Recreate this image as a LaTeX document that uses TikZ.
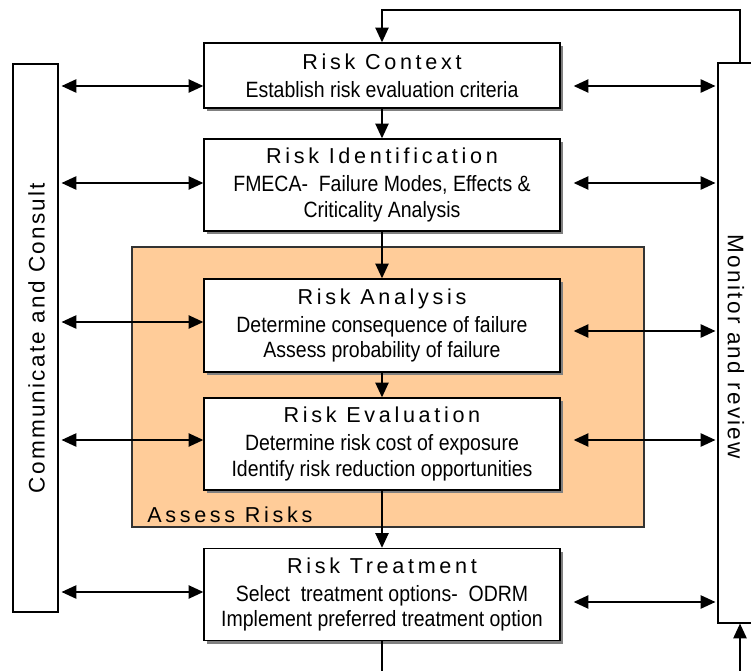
\documentclass[tikz,border=0pt]{standalone}
\usepackage{fontspec}
\setmainfont{Liberation Sans}
\newfontfamily\titlefont[LetterSpace=17]{Liberation Sans}
\newfontfamily\sidefont[LetterSpace=10]{Liberation Sans}
\newfontfamily\bodyfont[FakeStretch=0.88]{Liberation Sans}
\usetikzlibrary{arrows.meta,shadows,calc}
\newlength\px
\setlength\px{0.75pt}
\newcommand\steptitle{\titlefont\fontsize{16.2}{19.2}\selectfont}
\newcommand\stepbody{\bodyfont\fontsize{16.6}{19.2}\selectfont}
\definecolor{assessorange}{HTML}{FFCC99}
\definecolor{shadowgray}{HTML}{808080}
\tikzset{
  stepbox/.style={draw=black, line width=1.1pt, fill=white,
    minimum width=356\px, minimum height=92\px, align=center, inner sep=0pt,
    font=\fontsize{16.6}{19.2}\selectfont,
    drop shadow={shadow xshift=3\px, shadow yshift=-3\px, fill=shadowgray, opacity=1}},
  sidebox/.style={draw=black, line width=0.9pt, fill=white, inner sep=0pt},
  sidetext/.style={font=\sidefont\fontsize{16.9}{18}\selectfont, inner sep=0pt},
  flow/.style={line width=0.9pt, -{Triangle[length=11pt,width=10pt]}},
  twoway/.style={line width=0.9pt,
    {Triangle[length=11pt,width=10pt]}-{Triangle[length=11pt,width=10pt]}},
}
\begin{document}
\begin{tikzpicture}[x=\px, y=-\px]
  \useasboundingbox (0,0) rectangle (751,671);
  \clip (0,0) rectangle (751,671);

  % assess risks background
  \node[draw=black!80, line width=0.8pt, fill=assessorange, inner sep=0pt,
        minimum width=512\px, minimum height=280\px] (assessbg) at (388,387) {};
  \node[anchor=base west, inner sep=0pt, font=\steptitle]
        (assess) at (147,522) {Assess Risks};

  % side boxes
  \node[sidebox, minimum width=45\px, minimum height=548\px] (comm) at (35.5,338) {};
  \node[sidetext, rotate=90] (commtext) at (36.5,338) {Communicate and Consult};
  \node[sidebox, minimum width=44\px, minimum height=560\px] (mon) at (740,343) {};
  \node[sidetext, rotate=-90] (montext) at (736,347) {Monitor and review};

  % process steps
  \node[stepbox, minimum height=65\px] (ctx) at (382,75.5)
    {{\steptitle Risk Context}\\[1.5pt]
     {\stepbody Establish risk evaluation criteria}};
  \node[stepbox] (ident) at (382,185)
    {{\steptitle Risk Identification}\\[1.5pt]
     {\stepbody FMECA-\ \ Failure Modes, Effects \&}\\
     {\stepbody Criticality Analysis}};
  \node[stepbox, minimum height=93\px] (anal) at (382,325.5)
    {{\steptitle Risk Analysis}\\[1.5pt]
     {\stepbody Determine consequence of failure}\\
     {\stepbody Assess probability of failure}};
  \node[stepbox] (eval) at (382,444)
    {{\steptitle Risk Evaluation}\\[1.5pt]
     {\stepbody Determine risk cost of exposure}\\
     {\stepbody Identify risk reduction opportunities}};
  \node[stepbox] (treat) at (382,594.5)
    {{\steptitle Risk Treatment}\\[1.5pt]
     {\stepbody Select\ \ treatment options-\ \ ODRM}\\
     {\stepbody Implement preferred treatment option}};

  % main flow
  \draw[flow] (ctx.south) -- (ident.north);
  \draw[flow] (ident.south) -- (anal.north);
  \draw[flow] (anal.south) -- (eval.north);
  \draw[flow] (eval.south) -- (treat.north);
  \coordinate (treatout) at (382,680);
  \draw[line width=0.9pt] (treat.south) -- (treatout);

  % feedback loop
  \coordinate (loop) at (740,10);
  \coordinate (monin) at (740,680);
  \draw[flow] (mon.north) -- (loop) -| (ctx.north);
  \draw[flow] (monin) -- (mon.south);

  % links to the side boxes
  \foreach \n/\dl/\dr in {ctx/10.5/10.5, ident/-2/-2, anal/-3.5/5.5,
                          eval/-4/-4, treat/-2.5/7.5} {
    \draw[twoway] ($(comm.east |- \n.west)+(3,\dl)$) -- ($(\n.west)+(0,\dl)$);
    \draw[twoway] ($(\n.east)+(13,\dr)$) -- ($(mon.west |- \n.east)+(-2,\dr)$);
  }
\end{tikzpicture}
\end{document}
